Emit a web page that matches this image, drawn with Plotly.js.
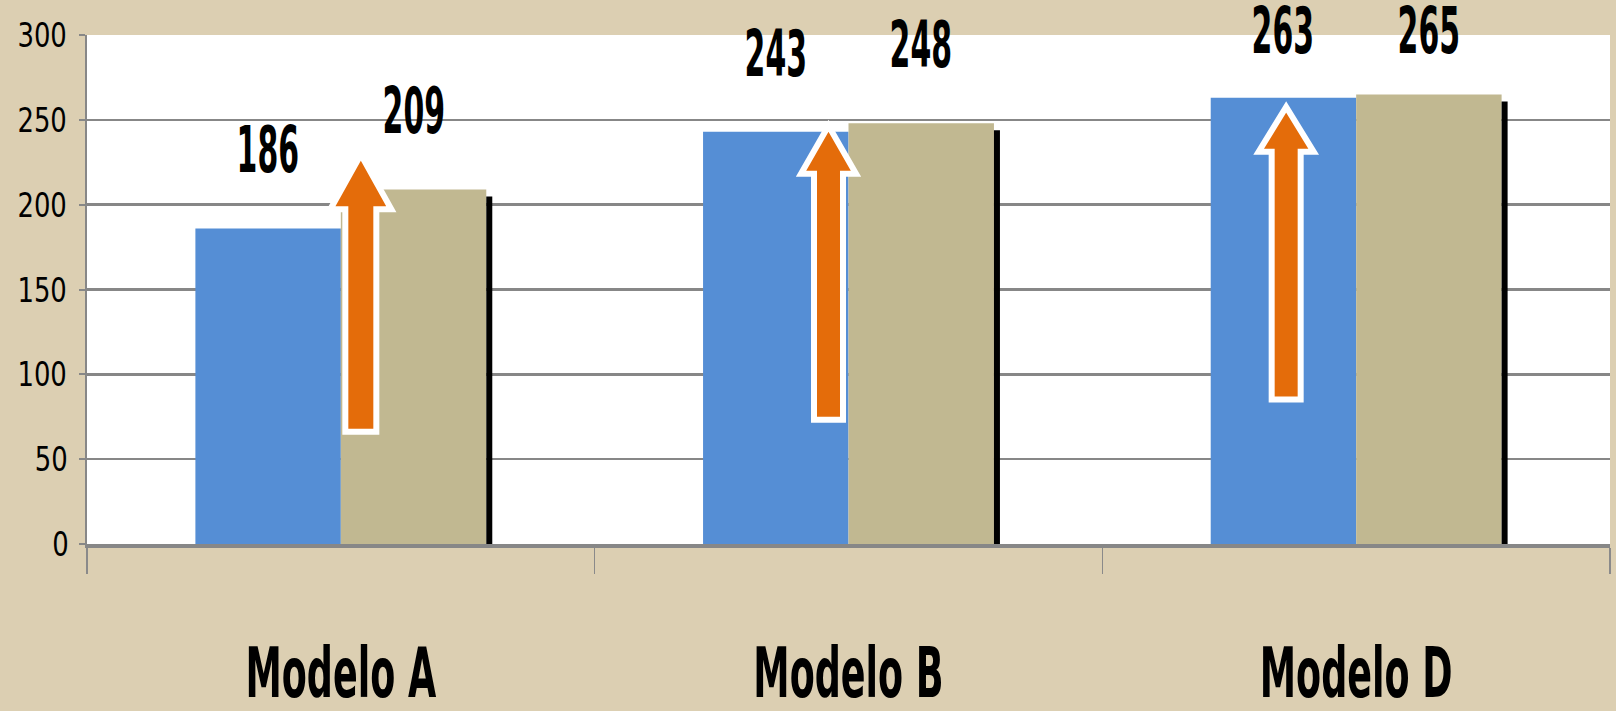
<!DOCTYPE html>
<html><head><meta charset="utf-8">
<script src="https://cdn.plot.ly/plotly-3.0.1.min.js"></script>
<style>html,body{margin:0;padding:0;background:#DCCFB2;} #chart{width:1616px;height:711px;}</style>
</head><body><div id="chart"></div>
<script>
// ---- data ----
const categories = ['Modelo A', 'Modelo B', 'Modelo D'];
const serie1 = [186, 243, 263];
const serie2 = [209, 248, 265];
const yTickVals = [0, 50, 100, 150, 200, 250, 300];

// ---- layout geometry ----
const W = 1616, H = 711;
const margin = {l: 87, r: 6, t: 35, b: 167, pad: 0};
const plotW = W - margin.l - margin.r, plotH = H - margin.t - margin.b;
const yMax = 300;
const pxX = categories.length / plotW;   // category units per pixel
const pxY = yMax / plotH;                // value units per pixel
const bargap = 0.427;
const barW = (1 - bargap) / 2;
const FONT = '"DejaVu Sans Condensed", "Liberation Sans Narrow", "Arial Narrow", sans-serif';

// decorative arrows (offset from category centre in px, vertical extents in axis units)
const arrowDeco = [
  {dx: 20,  tip: 226, base: 199, bottom: 68, shaft: 25, head: 49},
  {dx: -20, tip: 243, base: 220, bottom: 75, shaft: 23, head: 43},
  {dx: -70, tip: 254, base: 233, bottom: 87, shaft: 23, head: 43}
];

const traces = [
  {type: 'bar', name: 'Serie 1', x: categories, y: serie1, marker: {color: '#558ED5', line: {width: 0}}, hoverinfo: 'x+y'},
  {type: 'bar', name: 'Serie 2', x: categories, y: serie2, marker: {color: '#C1B891', line: {width: 0}}, hoverinfo: 'x+y'}
];

const shapes = [];
// shadows on right side of second-series bars
serie2.forEach((v, i) => {
  shapes.push({type: 'rect', xref: 'x', yref: 'y', layer: 'above',
    x0: i + barW, x1: i + barW + 6 * pxX, y0: 0, y1: v - 7 * pxY,
    fillcolor: '#000000', line: {width: 0}});
});
// arrows
const e = 3;
arrowDeco.forEach((a, i) => {
  const cx = i + a.dx * pxX;
  const sh = (a.shaft / 2 + e) * pxX, hh = (a.head / 2 + 2 * e) * pxX;
  const yb = a.bottom - e * pxY, ybase = a.base - e * pxY, yt = a.tip + 2 * e * pxY;
  const pts = [[cx - sh, yb], [cx - sh, ybase], [cx - hh, ybase], [cx, yt], [cx + hh, ybase], [cx + sh, ybase], [cx + sh, yb]];
  const path = 'M ' + pts.map(p => p[0].toFixed(5) + ',' + p[1].toFixed(3)).join(' L ') + ' Z';
  shapes.push({type: 'path', xref: 'x', yref: 'y', layer: 'above', path: path,
    fillcolor: '#E46C0A', line: {color: '#FFFFFF', width: 6}});
});

// value labels: centred ~78px above bar top, kept inside the canvas
function labelShift(v) {
  const barTopPx = margin.t + (yMax - v) / pxY;
  return Math.min(78, barTopPx - 31);
}
const labelFont = {family: FONT, size: 52, color: '#000', weight: 700};
const annotations = [];
categories.forEach((c, i) => {
  annotations.push({x: i - barW / 2, y: serie1[i], xref: 'x', yref: 'y', text: String(serie1[i]),
    showarrow: false, yanchor: 'middle', yshift: labelShift(serie1[i]), font: labelFont});
  annotations.push({x: i + barW / 2, y: serie2[i], xref: 'x', yref: 'y', text: String(serie2[i]),
    showarrow: false, yanchor: 'middle', yshift: labelShift(serie2[i]), font: labelFont});
});

const layout = {
  width: W, height: H, margin: margin,
  paper_bgcolor: '#DCCFB2', plot_bgcolor: '#FFFFFF',
  showlegend: false, barmode: 'group', bargap: bargap, bargroupgap: 0,
  font: {family: FONT, color: '#000'},
  xaxis: {type: 'category', range: [-0.5, 2.5], showgrid: false, zeroline: false,
    showline: true, linecolor: '#878787', linewidth: 4,
    ticks: 'outside', tickson: 'boundaries', ticklen: 26, tickwidth: 1.5, tickcolor: '#8A8A8A',
    tickfont: {family: FONT, size: 52, color: '#000', weight: 700}, ticklabelstandoff: 81},
  yaxis: {range: [0, yMax], tickvals: yTickVals, showgrid: true, gridcolor: '#878787', gridwidth: 2.5,
    zeroline: false, showline: true, linecolor: '#878787', linewidth: 2,
    ticks: 'outside', ticklen: 6, tickwidth: 2, tickcolor: '#878787',
    tickfont: {family: FONT, size: 32, color: '#000'}, ticklabelstandoff: 3},
  shapes: shapes, annotations: annotations
};

// condense text horizontally / stretch vertically about its own centre (keeps real text)
function condense(selector, sx, sy) {
  document.querySelectorAll(selector).forEach(el => {
    const bb = el.getBBox();
    const cx = bb.x + bb.width / 2, cy = bb.y + bb.height / 2;
    const prev = el.getAttribute('transform') || '';
    el.setAttribute('transform', prev + ' translate(' + cx + ',' + cy + ') scale(' + sx + ',' + sy + ') translate(' + (-cx) + ',' + (-cy) + ')');
  });
}

Plotly.newPlot('chart', traces, layout, {displayModeBar: false, staticPlot: true}).then(() => {
  condense('#chart .annotation-text', 0.64, 1.24);
  condense('#chart .xtick text', 0.78, 1.32);
  condense('#chart .ytick text', 0.9, 1.08);
});
</script>
</body></html>
